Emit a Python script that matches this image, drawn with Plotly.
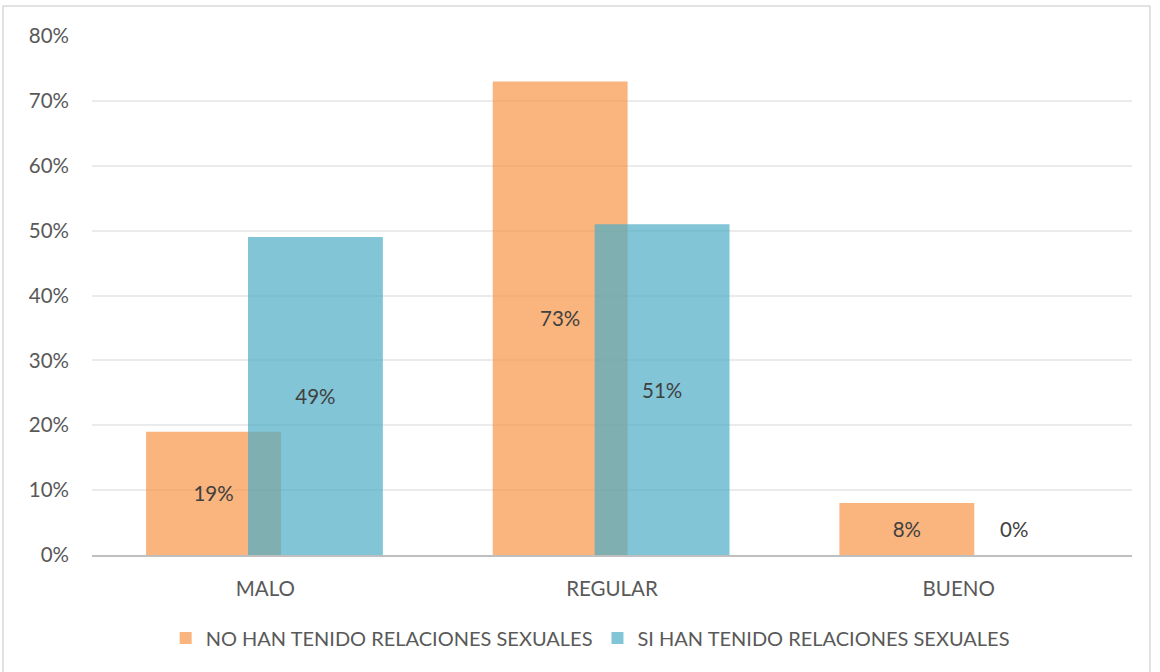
import plotly.graph_objects as go

categories = ["MALO", "REGULAR", "BUENO"]
series_names = ["NO HAN TENIDO RELACIONES SEXUALES", "SI HAN TENIDO RELACIONES SEXUALES"]
no_values = [0.19, 0.73, 0.08]
si_values = [0.49, 0.51, 0.00]
y_ticks = [0, 0.1, 0.2, 0.3, 0.4, 0.5, 0.6, 0.7, 0.8]

FONT = "Lato"
colors = ["rgba(247,150,70,0.7)", "rgba(75,172,198,0.7)"]
offsets = [-0.344, -0.050]
bar_w = 0.389

fig = go.Figure()
annotations = []
for name, vals, col, off in zip(series_names, [no_values, si_values], colors, offsets):
    fig.add_trace(go.Bar(
        x=categories, y=vals, name=name,
        marker=dict(color=col, line=dict(width=0)),
        width=bar_w, offset=off,
        text=[f"{round(v*100)}%" if v > 0 else "" for v in vals],
        textposition="inside", insidetextanchor="middle",
        textfont=dict(family=FONT, size=20.5, color="#404040"),
        textangle=0,
        hoverinfo="skip",
    ))
    for c, v in zip(categories, vals):
        if v == 0:
            annotations.append(dict(
                x=c, y=0, xref="x", yref="y", text=f"{round(v*100)}%",
                showarrow=False, yanchor="bottom", yshift=12,
                xshift=(off + bar_w / 2) * 346.7 + 5,
                font=dict(family=FONT, size=20.5, color="#404040"),
            ))

fig.update_layout(
    width=1160, height=672,
    margin=dict(l=92, r=28, t=36, b=117),
    barmode="overlay",
    plot_bgcolor="white", paper_bgcolor="white",
    font=dict(family=FONT, size=20, color="#595959"),
    showlegend=True,
    legend=dict(orientation="h", x=0.479, xanchor="center", y=-0.16, yanchor="middle",
                font=dict(family=FONT, size=20, color="#595959"),
                itemwidth=30, traceorder="normal"),
    annotations=annotations,
    shapes=[dict(type="rect", xref="paper", yref="paper",
                 x0=-0.0856, x1=1.0173, y0=-0.3, y1=1.0578,
                 line=dict(color="#D9D9D9", width=1.5), fillcolor="rgba(0,0,0,0)",
                 layer="below")],
)
fig.update_xaxes(
    type="category", showgrid=False, showline=True, linecolor="#BFBFBF", linewidth=2,
    ticks="", tickfont=dict(family=FONT, size=20.5, color="#595959"),
    ticklabelstandoff=14, zeroline=False,
)
fig.update_yaxes(
    range=[0, 0.8], tickvals=y_ticks, tickformat=".0%",
    showgrid=True, gridcolor="#EBEBEB", gridwidth=1.5,
    zeroline=False, showline=False, ticks="",
    tickfont=dict(family=FONT, size=20.5, color="#595959"),
    ticklabelstandoff=22,
)

fig.write_html("out.html")
